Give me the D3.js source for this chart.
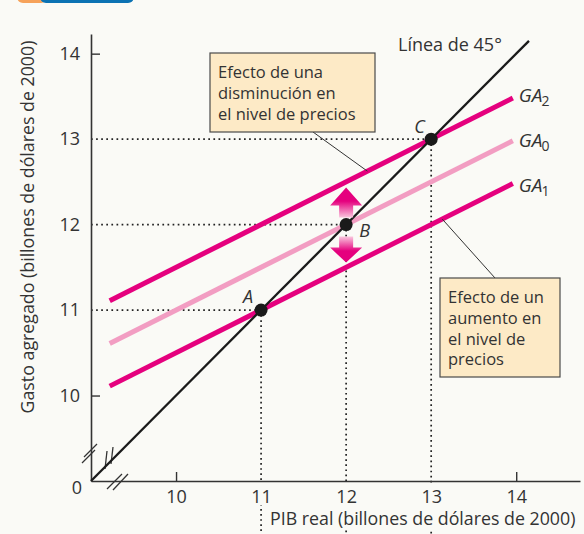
<!DOCTYPE html>
<html>
<head>
<meta charset="utf-8">
<script src="https://cdn.jsdelivr.net/npm/d3@7"></script>
<style>
  body { margin: 0; background: #fafaf6; }
  svg { display: block; }
  text { font-family: "Open Sans", Lato, sans-serif; fill: #333; }
</style>
</head>
<body>
<svg id="chart" width="584" height="534"></svg>
<script>
// values
var xTicks = [10, 11, 12, 13, 14];
var yTicks = [10, 11, 12, 13, 14];
var line45 = [[9, 9], [14.15, 14.15]];
var ga2 = [[9.22, 11.11], [13.96, 13.48]];
var ga0 = [[9.22, 10.61], [13.96, 12.98]];
var ga1 = [[9.22, 10.11], [13.96, 12.48]];
var eqNames = ["A", "B", "C"];
var eqValues = [11, 12, 13];
var gaLabels = [["GA", "2"], ["GA", "0"], ["GA", "1"]];

var magenta = "#e5007e", pink = "#f29dc2", bg = "#fafaf6";

var svg = d3.select("#chart");
var x = d3.scaleLinear().domain([9, 14.75]).range([91, 580]);
var y = d3.scaleLinear().domain([9, 14.23]).range([481, 34]);

// header sliver at the top
svg.append("rect").attr("x", 17).attr("y", -10).attr("width", 30).attr("height", 13).attr("rx", 6).attr("fill", "#f6a25a");
svg.append("rect").attr("x", 40).attr("y", -10).attr("width", 94).attr("height", 13).attr("rx", 6).attr("fill", "#0b72b3");

var defs = svg.append("defs");
var gUp = defs.append("linearGradient").attr("id", "gup").attr("x1", 0).attr("y1", 0).attr("x2", 0).attr("y2", 1);
gUp.append("stop").attr("offset", "0%").attr("stop-color", magenta);
gUp.append("stop").attr("offset", "45%").attr("stop-color", magenta);
gUp.append("stop").attr("offset", "100%").attr("stop-color", "#f9c6dd");
var gDn = defs.append("linearGradient").attr("id", "gdn").attr("x1", 0).attr("y1", 1).attr("x2", 0).attr("y2", 0);
gDn.append("stop").attr("offset", "0%").attr("stop-color", magenta);
gDn.append("stop").attr("offset", "45%").attr("stop-color", magenta);
gDn.append("stop").attr("offset", "100%").attr("stop-color", "#f9c6dd");

// dotted guide lines
var dots = svg.append("g").attr("stroke", "#222").attr("stroke-width", 1.7).attr("stroke-dasharray", "1.7,3.4");
eqValues.forEach(function(v) {
    dots.append("line").attr("x1", x(9)).attr("x2", x(v)).attr("y1", y(v)).attr("y2", y(v));
    dots.append("line").attr("x1", x(v)).attr("x2", x(v)).attr("y1", y(v)).attr("y2", 534);
});
// tick label band and x title cover the dotted lines
svg.append("rect").attr("x", 0).attr("y", 483).attr("width", 584).attr("height", 22).attr("fill", bg);
svg.append("rect").attr("x", 266).attr("y", 505).attr("width", 318).attr("height", 25).attr("fill", bg);

// axes
var xAxis = svg.append("g").attr("transform", "translate(0," + y(9) + ")")
    .call(d3.axisBottom(x).tickValues(xTicks).tickFormat(d3.format("d")).tickSizeInner(-9).tickSizeOuter(0).tickPadding(9));
var yAxis = svg.append("g").attr("transform", "translate(" + x(9) + ",0)")
    .call(d3.axisLeft(y).tickValues(yTicks).tickFormat(d3.format("d")).tickSizeInner(-9).tickSizeOuter(0).tickPadding(11));
[xAxis, yAxis].forEach(function(a) {
    a.select(".domain").attr("stroke", "#333").attr("stroke-width", 1.6);
    a.selectAll(".tick line").attr("stroke", "#333").attr("stroke-width", 1.4)
        .attr("display", function(d) { return (d == 10 || d == 14) ? null : "none"; });
    a.selectAll(".tick text").style("font-family", "'Open Sans', sans-serif").attr("font-size", 18).attr("fill", "#333");
});
svg.append("text").attr("x", 77).attr("y", 494).attr("text-anchor", "middle").attr("font-size", 18).text("0");

// axis titles
svg.append("text").attr("x", 270).attr("y", 525).attr("font-size", 17.8)
    .text("PIB real (billones de dólares de 2000)");
svg.append("text").attr("transform", "translate(34,227) rotate(-90)").attr("text-anchor", "middle")
    .attr("font-size", 17.8).text("Gasto agregado (billones de dólares de 2000)");

// break marks
var brk = svg.append("g").attr("stroke", "#333").attr("stroke-width", 1.3).attr("fill", "none");
brk.append("line").attr("x1", 84).attr("y1", 457).attr("x2", 97).attr("y2", 444);
brk.append("line").attr("x1", 82).attr("y1", 463).attr("x2", 95).attr("y2", 450);
brk.append("line").attr("x1", 107).attr("y1", 489).attr("x2", 122).attr("y2", 474);
brk.append("line").attr("x1", 113).attr("y1", 490).attr("x2", 128).attr("y2", 474);

var line = d3.line().x(function(d) { return x(d[0]); }).y(function(d) { return y(d[1]); });

// AE curves
svg.append("path").datum(ga0).attr("d", line).attr("stroke", pink).attr("stroke-width", 5).attr("fill", "none");
svg.append("path").datum(ga2).attr("d", line).attr("stroke", magenta).attr("stroke-width", 5).attr("fill", "none");
svg.append("path").datum(ga1).attr("d", line).attr("stroke", magenta).attr("stroke-width", 5).attr("fill", "none");

// 45 degree line
svg.append("path").datum(line45).attr("d", line).attr("stroke", "#1a1a1a").attr("stroke-width", 2.3).attr("fill", "none");
brk.append("line").attr("x1", 105).attr("y1", 469).attr("x2", 107).attr("y2", 451);
brk.append("line").attr("x1", 111).attr("y1", 464).attr("x2", 113).attr("y2", 447);
svg.append("text").attr("x", 398).attr("y", 51).attr("font-size", 18).text("Línea de 45°");

// arrows at B
var bx = x(12), by = y(12);
svg.append("path").attr("fill", "url(#gup)")
    .attr("d", "M" + bx + "," + (by - 37) + "L" + (bx + 16) + "," + (by - 19) + "L" + (bx + 7) + "," + (by - 19) +
        "L" + (bx + 7) + "," + (by - 7) + "L" + (bx - 7) + "," + (by - 7) + "L" + (bx - 7) + "," + (by - 19) +
        "L" + (bx - 16) + "," + (by - 19) + "Z");
svg.append("path").attr("fill", "url(#gdn)")
    .attr("d", "M" + bx + "," + (by + 38) + "L" + (bx + 16) + "," + (by + 23) + "L" + (bx + 7) + "," + (by + 23) +
        "L" + (bx + 7) + "," + (by + 12) + "L" + (bx - 7) + "," + (by + 12) + "L" + (bx - 7) + "," + (by + 23) +
        "L" + (bx - 16) + "," + (by + 23) + "Z");

// equilibrium points
svg.selectAll("circle.eq").data(eqValues).enter().append("circle").attr("class", "eq")
    .attr("cx", function(d) { return x(d); }).attr("cy", function(d) { return y(d); })
    .attr("r", 6.5).attr("fill", "#1a1a1a");
var eqOff = [[-18, -7], [13, 12], [-17, -6]];
svg.selectAll("text.eq").data(eqValues).enter().append("text").attr("class", "eq")
    .attr("x", function(d, i) { return x(d) + eqOff[i][0]; })
    .attr("y", function(d, i) { return y(d) + eqOff[i][1]; })
    .attr("font-size", 18).attr("font-style", "italic").text(function(d, i) { return eqNames[i]; });

// curve labels
[ga2, ga0, ga1].forEach(function(s, i) {
    var t = svg.append("text").attr("x", x(s[1][0]) + 6).attr("y", y(s[1][1]) + 6 + (i - 1) * 2)
        .attr("font-size", 19);
    t.append("tspan").attr("font-style", "italic").text(gaLabels[i][0]);
    t.append("tspan").attr("font-size", 14).attr("dy", 4).attr("dx", -1).text(gaLabels[i][1]);
});

// callouts
function callout(bxL, byT, w, h, lines, fromPt) {
    svg.append("line").attr("x1", fromPt[0]).attr("y1", fromPt[1]).attr("x2", fromPt[2]).attr("y2", fromPt[3])
        .attr("stroke", "#333").attr("stroke-width", 1);
    svg.append("rect").attr("x", bxL).attr("y", byT).attr("width", w).attr("height", h)
        .attr("fill", "#fdeac6").attr("stroke", "#4a4a4a").attr("stroke-width", 1.2);
    lines.forEach(function(l, i) {
        svg.append("text").attr("x", bxL + 8).attr("y", byT + 25 + i * 20.8).attr("font-size", 16.5).text(l);
    });
}
callout(210, 53, 165, 79, ["Efecto de una", "disminución en", "el nivel de precios"],
    [x(12.25), y(11.11 + (12.25 - 9.22) * 0.5), 313, 132]);
callout(440, 278, 120, 99, ["Efecto de un", "aumento en", "el nivel de", "precios"],
    [x(13.13), y(10.11 + (13.13 - 9.22) * 0.5), 495, 278]);
</script>
</body>
</html>
